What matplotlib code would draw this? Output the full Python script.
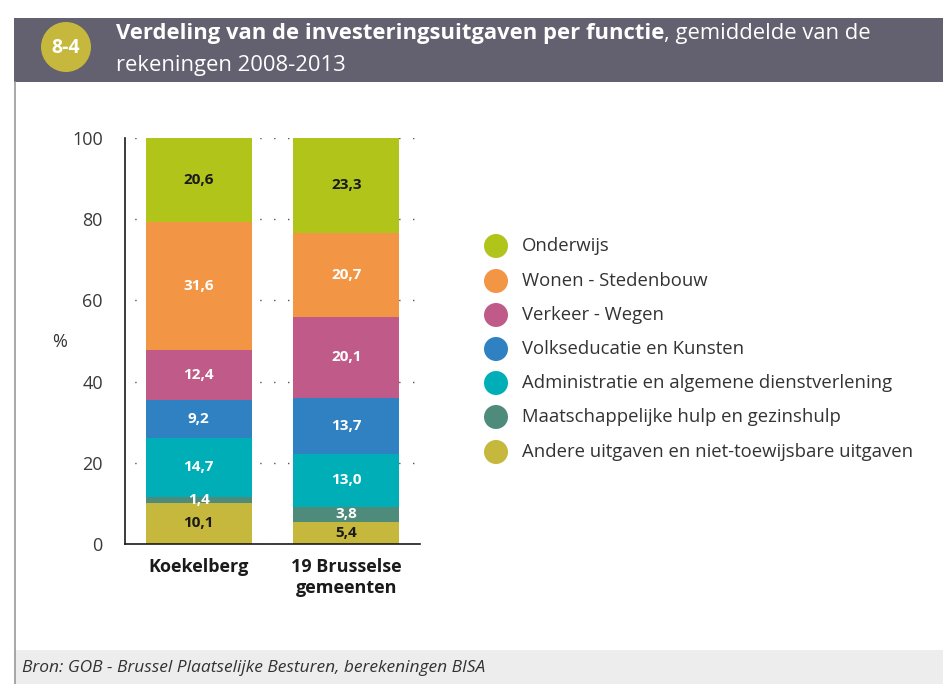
import matplotlib.pyplot as plt
from matplotlib.patches import Rectangle, Ellipse

plt.rcParams['font.family'] = ['Open Sans', 'DejaVu Sans']

# Data
gebieden = ["Koekelberg", "19 Brusselse\ngemeenten"]
functies = [
    "Andere uitgaven en niet-toewijsbare uitgaven",
    "Maatschappelijke hulp en gezinshulp",
    "Administratie en algemene dienstverlening",
    "Volkseducatie en Kunsten",
    "Verkeer - Wegen",
    "Wonen - Stedenbouw",
    "Onderwijs",
]
koekelberg = [10.1, 1.4, 14.7, 9.2, 12.4, 31.6, 20.6]
brussel = [5.4, 3.8, 13.0, 13.7, 20.1, 20.7, 23.3]
kleuren = ["#c6b83c", "#4e8b7b", "#00aeb8", "#2f81c1", "#c05a88", "#f29545", "#b0c41a"]
label_kleuren = ["#1a1a1a", "white", "white", "white", "white", "white", "#1a1a1a"]

fig = plt.figure(figsize=(9.43, 6.84), dpi=100)

# Kader en koptekst
fig.patches.append(Rectangle((14 / 943, 1 - 82 / 684), 1, 64 / 684, transform=fig.transFigure,
                             facecolor="#636170", edgecolor="none", zorder=0))
fig.patches.append(Rectangle((14 / 943, 0), 1, 34 / 684, transform=fig.transFigure,
                             facecolor="#ecedec", edgecolor="none", zorder=0))
fig.add_artist(plt.Line2D([14.5 / 943, 14.5 / 943], [0, 1 - 82 / 684], transform=fig.transFigure,
                          color="#9a9a9a", lw=1.2))
fig.patches.append(Ellipse((66 / 943, 1 - 47 / 684), 50 / 943, 50 / 684, transform=fig.transFigure,
                           facecolor="#c6b83c", edgecolor="none", zorder=1))
fig.text(66 / 943, 1 - 48 / 684, "8-4", color="white", fontsize=14, fontweight="bold",
         ha="center", va="center")

t1 = fig.text(116 / 943, 1 - 33 / 684, "Verdeling van de investeringsuitgaven per functie",
              color="white", fontsize=15.8, fontweight="bold", ha="left", va="center")
fig.canvas.draw()
bb = t1.get_window_extent()
fig.text(bb.x1 / 943, 1 - 33 / 684, ", gemiddelde van de", color="white", fontsize=15.8,
         ha="left", va="center")
fig.text(116 / 943, 1 - 65 / 684, "rekeningen 2008-2013", color="white", fontsize=15.8,
         ha="left", va="center")

fig.text(22 / 943, 1 - 668 / 684, "Bron: GOB - Brussel Plaatselijke Besturen, berekeningen BISA",
         color="#333333", fontsize=12.5, style="italic", ha="left", va="center")

# Grafiek
ax = fig.add_axes([125 / 943, 140 / 684, 295 / 943, 406 / 684])
x = range(len(gebieden))
onder = [0, 0]
for i, f in enumerate(functies):
    waarden = [koekelberg[i], brussel[i]]
    ax.bar(x, waarden, bottom=onder, width=0.72, color=kleuren[i], zorder=2)
    for j in x:
        ax.text(j, onder[j] + waarden[j] / 2, f"{waarden[j]:.1f}".replace(".", ","),
                ha="center", va="center", fontsize=11, fontweight="bold",
                color=label_kleuren[i], zorder=3)
    onder = [onder[j] + waarden[j] for j in x]

ax.set_xlim(-0.5, 1.5)
ax.set_ylim(0, 100)
ax.set_yticks([0, 20, 40, 60, 80, 100])
ax.tick_params(axis="y", length=0, pad=16, labelsize=13, labelcolor="#3a3a3a")
ax.tick_params(axis="x", length=0, pad=10, labelsize=13)
ax.set_xticks(list(x))
ax.set_xticklabels(gebieden, fontweight="bold", color="#1a1a1a", linespacing=1.25)
for s in ["top", "right"]:
    ax.spines[s].set_visible(False)
ax.spines["left"].set_color("#1a1a1a")
ax.spines["bottom"].set_color("#1a1a1a")
ax.spines["left"].set_linewidth(1.2)
ax.spines["bottom"].set_linewidth(1.2)
ax.yaxis.grid(True, color="#555555", linestyle=(3, (1, 9)), linewidth=1.0, zorder=0)
ax.set_axisbelow(True)
fig.text(60 / 943, 1 - 342 / 684, "%", fontsize=13, color="#333333", ha="center", va="center")

# Legenda
ys = [246, 281, 315, 349, 383, 417, 452]
for k, y in enumerate(ys):
    idx = len(functies) - 1 - k
    fig.patches.append(Ellipse((496 / 943, 1 - y / 684), 24 / 943, 24 / 684, transform=fig.transFigure,
                               facecolor=kleuren[idx], edgecolor="none"))
    fig.text(522 / 943, 1 - y / 684, functies[idx], fontsize=13.3, color="#333333",
             ha="left", va="center")

fig.savefig("out.png", dpi=100)
